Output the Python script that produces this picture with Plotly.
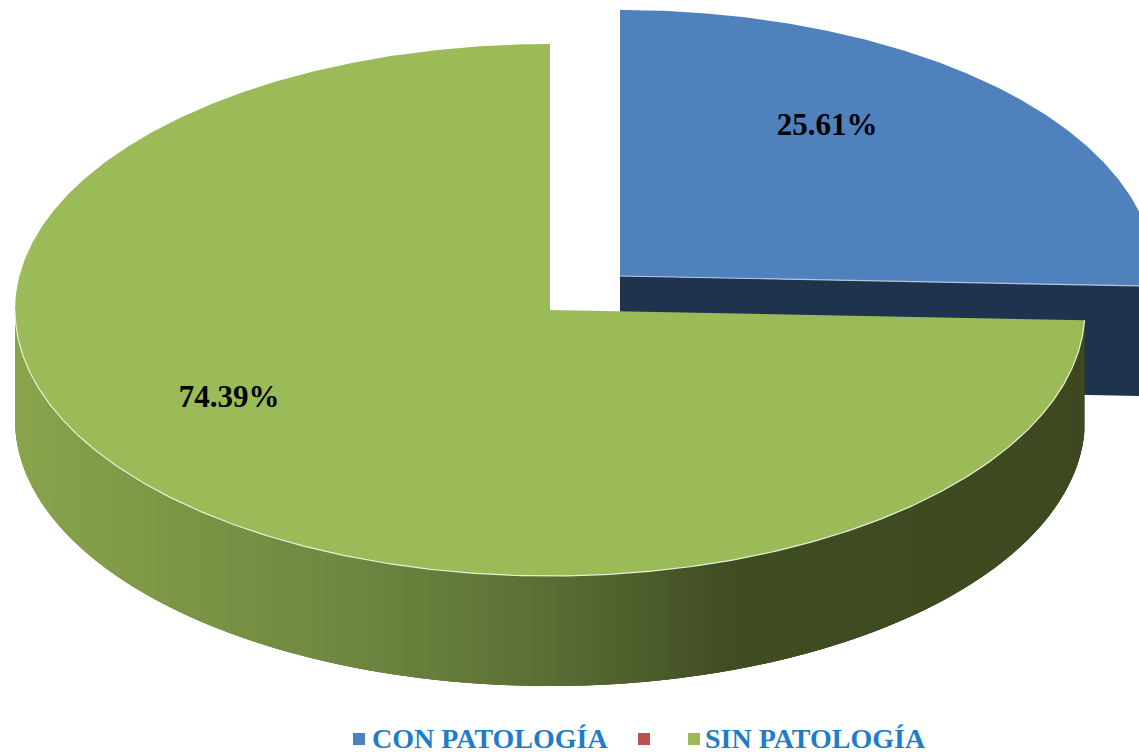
import numpy as np
import plotly.graph_objects as go

# data
categories = ["CON PATOLOGÍA", "", "SIN PATOLOGÍA"]
values = [25.61, 0, 74.39]
colors = ["#4f81bd", "#c0504d", "#9bbb59"]
labels = ["25.61%", "74.39%"]

# style / geometry of the tilted pie (pixel scale of the axes)
W, H = 1139, 756
RX, RY, DEPTH = 535, 266, 110
C_GREEN = (550, 310)
C_BLUE = (620, 276)
NAVY = "#1f324e"
FONT = "Liberation Serif"

total = sum(values)
split = values[0] / total * 2 * np.pi


def arc(center, a0, a1, n=240, dy=0):
    t = np.linspace(a0, a1, n)
    return center[0] + RX * np.sin(t), center[1] - RY * np.cos(t) + dy


def lerp_color(x):
    stops = [(15, (138, 163, 76)), (150, (126, 152, 70)), (354, (110, 134, 64)),
             (456, (100, 122, 58)), (558, (90, 108, 52)), (660, (74, 90, 42)),
             (730, (64, 76, 34)), (1085, (62, 73, 33))]
    xs = [s[0] for s in stops]
    rgb = [np.interp(x, xs, [s[1][i] for s in stops]) for i in range(3)]
    return "rgb(%d,%d,%d)" % tuple(int(round(v)) for v in rgb)


fig = go.Figure()


def poly(x, y, color, lw=0):
    fig.add_trace(go.Scatter(
        x=list(x), y=list(y), mode="lines", fill="toself", fillcolor=color,
        line=dict(color=color, width=lw), hoverinfo="skip", showlegend=False))


# blue slice: cut face, then top
ex, ey = arc(C_BLUE, split, split, 1)
poly([C_BLUE[0], ex[0], ex[0], C_BLUE[0]],
     [C_BLUE[1], ey[0], ey[0] + DEPTH, C_BLUE[1] + DEPTH], NAVY)
bx, by = arc(C_BLUE, 0, split)
poly([C_BLUE[0], *bx, C_BLUE[0]], [C_BLUE[1], *by, C_BLUE[1]], colors[0])
fig.add_trace(go.Scatter(x=[C_BLUE[0], ex[0]], y=[C_BLUE[1], ey[0]], mode="lines",
                         line=dict(color="#b4c6dc", width=1.2), hoverinfo="skip", showlegend=False))

# green slice: side wall as overlapping gradient strips, painted in order so no seams show
edges = np.linspace(split, 1.5 * np.pi, 181)
step = edges[1] - edges[0]
for a0 in edges[:-1]:
    a1 = min(a0 + 3 * step, 1.5 * np.pi)
    tx, ty = arc(C_GREEN, a0, a1, 6)
    lx, ly = arc(C_GREEN, a1, a0, 6, DEPTH)
    poly([*tx, *lx], [*ty, *ly], lerp_color(RX * np.sin(a0 + step / 2) + C_GREEN[0]), 0)

# green slice: top
gx, gy = arc(C_GREEN, split, 2 * np.pi, 500)
poly([C_GREEN[0], *gx, C_GREEN[0]], [C_GREEN[1], *gy, C_GREEN[1]], colors[2])
rx, ry = arc(C_GREEN, split, 1.5 * np.pi, 400)
fig.add_trace(go.Scatter(x=rx, y=ry, mode="lines", line=dict(color="#e8efd8", width=1.2),
                         hoverinfo="skip", showlegend=False))

# slice labels
fig.add_trace(go.Scatter(
    x=[827, 229], y=[127, 399], mode="text", text=labels,
    textfont=dict(family=FONT, size=31, color="#000000", weight="bold"),
    textposition="middle center", hoverinfo="skip", showlegend=False))

# legend
fig.add_trace(go.Scatter(
    x=[359, 644, 694], y=[739, 739, 739], mode="markers",
    marker=dict(symbol="square", size=12, color=colors, line=dict(width=0)),
    hoverinfo="skip", showlegend=False))
fig.add_trace(go.Scatter(
    x=[372, 705], y=[741, 741], mode="text",
    text=[categories[0], categories[2]], textposition="middle right",
    textfont=dict(family=FONT, size=28, color="#1f7cc8", weight="bold"),
    hoverinfo="skip", showlegend=False))

fig.update_layout(
    width=W, height=H, margin=dict(l=0, r=0, t=0, b=0),
    paper_bgcolor="white", plot_bgcolor="white", showlegend=False,
    xaxis=dict(range=[0, W], visible=False, fixedrange=True),
    yaxis=dict(range=[H, 0], visible=False, fixedrange=True),
)
fig.write_html("out.html", config={"displayModeBar": False},
               post_script="document.body.style.margin='0';document.documentElement.style.overflow='hidden';")
